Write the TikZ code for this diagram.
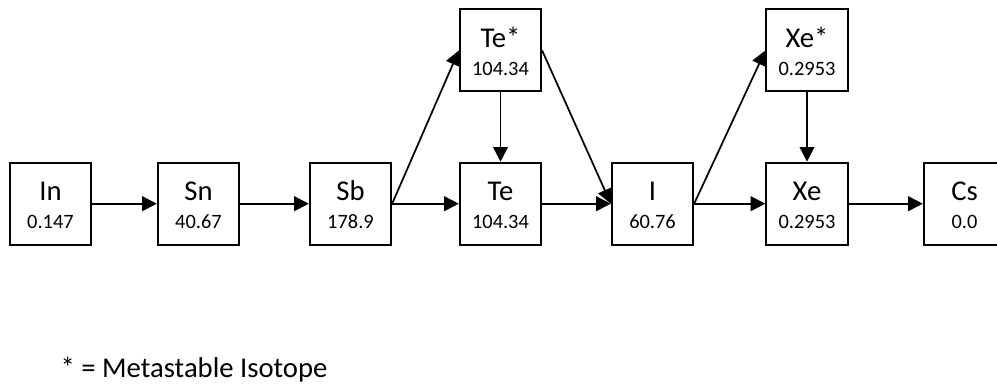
\documentclass[tikz,border=0pt]{standalone}
\usepackage{fontspec}
\setmainfont{Carlito}
\usetikzlibrary{arrows.meta}

\tikzset{
    iso/.style={draw, line width=1.5pt, minimum width=61pt, minimum height=61.5pt,
        inner sep=0pt, align=center, text height=37.2pt, text depth=0pt,
        font=\fontsize{21.5}{21.2}\selectfont},
    decay/.style={-{Triangle[length=11pt, width=11pt]}, line width=1.3pt}
}
\newcommand{\yield}[1]{{\fontsize{15.3}{21.2}\selectfont #1}}

\begin{document}
\begin{tikzpicture}[x=0.75pt, y=0.75pt]
    \def\low{181.3}
    \def\high{334.5}

    \useasboundingbox (0, 0) rectangle (997, 385);
    \clip (0, 0) rectangle (997, 385);

    % chain along the bottom row
    \node[iso] (In) at (50.5, \low) {In\\\yield{0.147}};
    \node[iso] (Sn) at (198.5, \low) {Sn\\\yield{40.67}};
    \node[iso] (Sb) at (350.5, \low) {Sb\\\yield{178.9}};
    \node[iso] (Te) at (500.5, \low) {Te\\\yield{104.34}};
    \node[iso] (I) at (652.5, \low) {I\\\yield{60.76}};
    \node[iso] (Xe) at (807, \low) {Xe\\\yield{0.2953}};
    \node[iso] (Cs) at (964.5, \low) {Cs\\\yield{0.0}};

    % metastable states
    \node[iso] (TeM) at (500.5, \high) {Te*\\\yield{104.34}};
    \node[iso] (XeM) at (807, \high) {Xe*\\\yield{0.2953}};

    \draw[decay] (In) -- (Sn);
    \draw[decay] (Sn) -- (Sb);
    \draw[decay] (Sb.east) -- (Te.west);
    \draw[decay] (Sb.east) -- (TeM.west);
    \draw[decay] (TeM) -- (Te);
    \draw[decay] (TeM.east) -- (I.west);
    \draw[decay] (Te.east) -- (I.west);
    \draw[decay] (I.east) -- (XeM.west);
    \draw[decay] (I.east) -- (Xe.west);
    \draw[decay] (XeM) -- (Xe);
    \draw[decay] (Xe) -- (Cs);

    \node[anchor=base west, font=\fontsize{21.5}{24}\selectfont] (note) at (56, 7) {* = Metastable Isotope};
\end{tikzpicture}
\end{document}
